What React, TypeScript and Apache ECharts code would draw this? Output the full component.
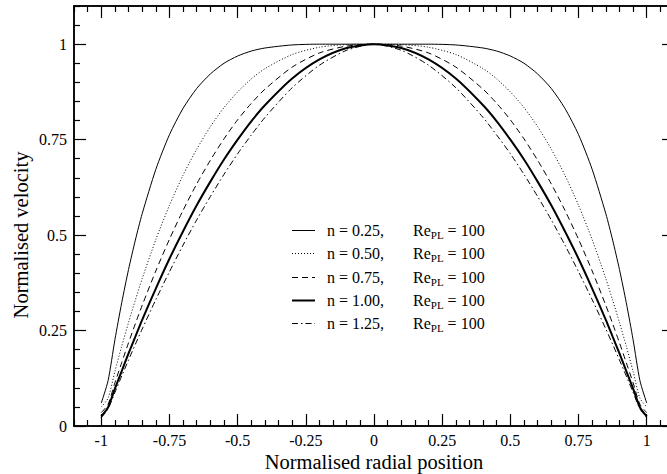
import { useEffect, useRef } from "react";
import * as echarts from "echarts";

// Radial positions where the profiles were read
const X = [-1, -0.975, -0.95, -0.925, -0.9, -0.875, -0.85, -0.8, -0.75, -0.7, -0.65, -0.6, -0.55, -0.5, -0.45, -0.4, -0.3, -0.2, -0.1, 0,
  0.1, 0.2, 0.3, 0.4, 0.45, 0.5, 0.55, 0.6, 0.65, 0.7, 0.75, 0.8, 0.85, 0.875, 0.9, 0.925, 0.95, 0.975, 1];

// Normalised velocity for each flow-behaviour index
const U_N025 = [0.06, 0.119, 0.226, 0.323, 0.41, 0.487, 0.556, 0.672, 0.763, 0.832, 0.884, 0.922, 0.95, 0.969, 0.982, 0.99, 0.998, 1.0, 1.0, 1.0,
  1.0, 1.0, 0.998, 0.99, 0.982, 0.969, 0.95, 0.922, 0.884, 0.832, 0.763, 0.672, 0.556, 0.487, 0.41, 0.323, 0.226, 0.119, 0.06];
const U_N050 = [0.05, 0.073, 0.143, 0.209, 0.271, 0.33, 0.386, 0.488, 0.578, 0.657, 0.725, 0.784, 0.834, 0.875, 0.909, 0.936, 0.973, 0.992, 0.999, 1.0,
  0.999, 0.992, 0.973, 0.936, 0.909, 0.875, 0.834, 0.784, 0.725, 0.657, 0.578, 0.488, 0.386, 0.33, 0.271, 0.209, 0.143, 0.073, 0.05];
const U_N075 = [0.035, 0.057, 0.113, 0.166, 0.218, 0.268, 0.316, 0.406, 0.489, 0.565, 0.634, 0.696, 0.752, 0.802, 0.845, 0.882, 0.94, 0.977, 0.995, 1.0,
  0.995, 0.977, 0.94, 0.882, 0.845, 0.802, 0.752, 0.696, 0.634, 0.565, 0.489, 0.406, 0.316, 0.268, 0.218, 0.166, 0.113, 0.057, 0.035];
const U_N100 = [0.025, 0.049, 0.098, 0.144, 0.19, 0.234, 0.278, 0.36, 0.438, 0.51, 0.578, 0.64, 0.698, 0.75, 0.798, 0.84, 0.91, 0.96, 0.99, 1.0,
  0.99, 0.96, 0.91, 0.84, 0.798, 0.75, 0.698, 0.64, 0.578, 0.51, 0.438, 0.36, 0.278, 0.234, 0.19, 0.144, 0.098, 0.049, 0.025];
const U_N125 = [0.022, 0.045, 0.088, 0.131, 0.173, 0.214, 0.254, 0.331, 0.404, 0.474, 0.54, 0.601, 0.659, 0.713, 0.762, 0.808, 0.886, 0.945, 0.984, 1.0,
  0.984, 0.945, 0.886, 0.808, 0.762, 0.713, 0.659, 0.601, 0.54, 0.474, 0.404, 0.331, 0.254, 0.214, 0.173, 0.131, 0.088, 0.045, 0.022];

const N_LABELS = ["0.25", "0.50", "0.75", "1.00", "1.25"];
const RE_PL = 100;

const X_TICKS = [-1, -0.75, -0.5, -0.25, 0, 0.25, 0.5, 0.75, 1];
const Y_TICKS = [0, 0.25, 0.5, 0.75, 1];

const X_TITLE = "Normalised radial position";
const Y_TITLE = "Normalised velocity";

const FONT = "Liberation Serif";

function minorTicks(lo: number, hi: number, step: number, majors: number[]) {
  const out: number[] = [];
  const n = Math.round((hi - lo) / step);
  for (let i = 0; i <= n; i++) {
    const v = Math.round((lo + i * step) * 1000) / 1000;
    if (!majors.some((m) => Math.abs(m - v) < 1e-9)) out.push(v);
  }
  return out;
}

export default function App() {
  const ref = useRef<HTMLDivElement>(null);

  useEffect(() => {
    if (!ref.current) return;
    const chart = echarts.init(ref.current, null, { renderer: "svg" });

    const xMinor = minorTicks(-1.1, 1.1, 0.05, X_TICKS);
    const yMinor = minorTicks(0, 1.1, 0.05, Y_TICKS);

    const lineCol = "#000";
    const axLine = { show: true, onZero: false, lineStyle: { color: lineCol, width: 1.5 } };
    const majTick = (vals: number[]) => ({ show: true, inside: true, length: 12, customValues: vals, lineStyle: { color: lineCol, width: 1.2 } });
    const minTick = (vals: number[]) => ({ show: true, inside: true, length: 6, customValues: vals, lineStyle: { color: lineCol, width: 1.2 } });
    const noLabel = { show: false };

    const xBase = { type: "value" as const, min: -1.1, max: 1.1, splitLine: { show: false }, gridIndex: 0 };
    const yBase = { type: "value" as const, min: 0, max: 1.1, splitLine: { show: false }, gridIndex: 0 };

    const labelStyle = { color: "#000", fontSize: 16, fontFamily: FONT };

    const styles = [
      { width: 1, type: "solid" as any },
      { width: 1, type: [1, 2] as any },
      { width: 1, type: [6, 4] as any },
      { width: 2, type: "solid" as any },
      { width: 1, type: [6, 3, 1.5, 3] as any },
    ];
    const datasets = [U_N025, U_N050, U_N075, U_N100, U_N125];

    const series = datasets.map((vals, i) => ({
      type: "line" as const,
      name: "n = " + N_LABELS[i],
      xAxisIndex: 0,
      yAxisIndex: 0,
      symbol: "none",
      smooth: 0.25,
      data: X.map((x, k) => [x, vals[k]]),
      lineStyle: { color: "#000", width: styles[i].width, type: styles[i].type },
    }));

    const legendTop = 230;
    const legendStep = 23.3;
    const legendGraphics: any[] = [];
    N_LABELS.forEach((n, i) => {
      const y = Math.round(legendTop + i * legendStep) + 0.5;
      legendGraphics.push({
        type: "line",
        shape: { x1: 292, y1: y, x2: 315, y2: y },
        style: { stroke: "#000", lineWidth: styles[i].width, lineDash: Array.isArray(styles[i].type) ? styles[i].type : null },
      });
      legendGraphics.push({
        type: "text",
        x: 327,
        y: y,
        style: {
          text: `{n|n = ${n},}{re|Re}{sub|PL}{re| = ${RE_PL}}`,
          verticalAlign: "middle",
          align: "left",
          rich: {
            n: { fontSize: 16, fontFamily: FONT, fill: "#000", width: 86 },
            re: { fontSize: 16, fontFamily: FONT, fill: "#000" },
            sub: { fontSize: 11, fontFamily: FONT, fill: "#000", padding: [9, 0, 0, 0] },
          },
        },
      });
    });

    chart.setOption({
      animation: false,
      backgroundColor: "#fff",
      textStyle: { fontFamily: FONT },
      grid: { left: 74, right: 6, top: 6, bottom: 48, containLabel: false },
      xAxis: [
        { ...xBase, position: "bottom", axisLine: axLine, axisTick: majTick(X_TICKS), axisLabel: { ...labelStyle, customValues: X_TICKS, margin: 6 } },
        { ...xBase, position: "bottom", axisLine: axLine, axisTick: minTick(xMinor), axisLabel: noLabel },
        { ...xBase, position: "top", axisLine: axLine, axisTick: majTick(X_TICKS), axisLabel: noLabel },
        { ...xBase, position: "top", axisLine: axLine, axisTick: minTick(xMinor), axisLabel: noLabel },
      ],
      yAxis: [
        { ...yBase, position: "left", axisLine: axLine, axisTick: majTick(Y_TICKS), axisLabel: { ...labelStyle, customValues: Y_TICKS, margin: 7 } },
        { ...yBase, position: "left", axisLine: axLine, axisTick: minTick(yMinor), axisLabel: noLabel },
        { ...yBase, position: "right", axisLine: axLine, axisTick: majTick(Y_TICKS), axisLabel: noLabel },
        { ...yBase, position: "right", axisLine: axLine, axisTick: minTick(yMinor), axisLabel: noLabel },
      ],
      series,
      graphic: [
        ...legendGraphics,
        {
          type: "text",
          x: 374,
          y: 462,
          style: { text: X_TITLE, fontSize: 20.5, fontFamily: FONT, fill: "#000", align: "center", verticalAlign: "middle" },
        },
        {
          type: "text",
          x: 21,
          y: 235,
          rotation: Math.PI / 2,
          style: { text: Y_TITLE, fontSize: 20.5, fontFamily: FONT, fill: "#000", align: "center", verticalAlign: "middle" },
        },
      ],
    });

    return () => chart.dispose();
  }, []);

  return <div ref={ref} style={{ position: "fixed", left: 0, top: 0, width: 680, height: 474 }} />;
}
